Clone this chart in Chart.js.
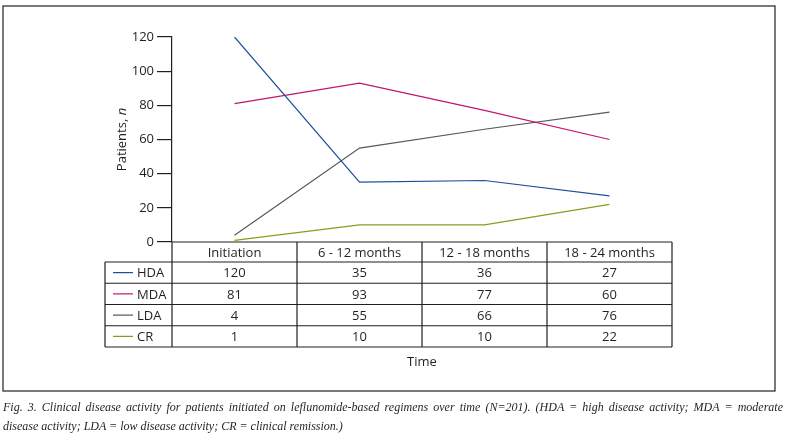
<!DOCTYPE html>
<html lang="en">
<head>
    <meta charset="UTF-8">
    <title>Clinical disease activity</title>
    <script src="https://cdn.jsdelivr.net/npm/chart.js"></script>
    <style>
        body { margin: 0; background: #fff; }
        .wrap { position: relative; width: 789px; height: 437px; }
        #grafico { position: absolute; left: 0; top: 0; }
        .legenda {
            position: absolute; left: 3px; top: 398px; width: 780px;
            font-family: "Liberation Serif", serif; font-style: italic;
            font-size: 12px; line-height: 19px; color: #231f20; margin: 0;
        }
        .legenda .l1 { display: block; text-align: justify; text-align-last: justify; white-space: nowrap; }
    </style>
</head>
<body>
<div class="wrap">
    <canvas id="grafico" width="789" height="437"></canvas>
    <p class="legenda"><span class="l1">Fig. 3. Clinical disease activity for patients initiated on leflunomide-based regimens over time (N=201). (HDA = high disease activity; MDA = moderate</span>disease activity; LDA = low disease activity; CR = clinical remission.)</p>
</div>
<script>
    // dados
    const periodos = ['Initiation', '6 - 12 months', '12 - 18 months', '18 - 24 months'];
    const nomesSeries = ['HDA', 'MDA', 'LDA', 'CR'];
    const hda = [120, 35, 36, 27];
    const mda = [81, 93, 77, 60];
    const lda = [4, 55, 66, 76];
    const cr = [1, 10, 10, 22];
    const ticksY = [0, 20, 40, 60, 80, 100, 120];

    const cores = ['#1f4f9c', '#c0166e', '#58585a', '#8a9c1b'];
    const tinta = '#231f20';
    const fonte = '"Open Sans", sans-serif';

    // tabela abaixo do grafico + moldura
    const tabela = {
        id: 'tabela',
        afterDraw(chart) {
            const ctx = chart.ctx;
            const area = chart.chartArea;
            const x = chart.scales.x;
            const meia = (x.getPixelForValue(1) - x.getPixelForValue(0)) / 2;
            const topo = area.bottom;
            const alturaCab = 20;
            const alturaLinha = 21.25;
            const esq = 105;
            const fundo = topo + alturaCab + alturaLinha * nomesSeries.length;
            const valores = [hda, mda, lda, cr];

            ctx.save();
            ctx.strokeStyle = tinta;
            ctx.fillStyle = tinta;
            ctx.lineWidth = 1.2;

            // moldura
            ctx.strokeRect(3, 6, 772, 385);

            ctx.beginPath();
            ctx.moveTo(area.left, topo);
            ctx.lineTo(area.right, topo);
            for (let r = 0; r <= nomesSeries.length; r++) {
                const yy = topo + alturaCab + r * alturaLinha;
                ctx.moveTo(esq, yy);
                ctx.lineTo(area.right, yy);
            }
            for (let i = 0; i <= periodos.length; i++) {
                const xx = i < periodos.length ? x.getPixelForValue(i) - meia : x.getPixelForValue(i - 1) + meia;
                ctx.moveTo(xx, topo);
                ctx.lineTo(xx, fundo);
            }
            ctx.moveTo(esq, topo + alturaCab);
            ctx.lineTo(esq, fundo);
            ctx.stroke();

            ctx.font = '13px ' + fonte;
            ctx.textAlign = 'center';
            ctx.textBaseline = 'middle';
            for (let i = 0; i < periodos.length; i++) {
                ctx.fillText(periodos[i], x.getPixelForValue(i), topo + alturaCab / 2 + 1);
            }
            for (let r = 0; r < nomesSeries.length; r++) {
                const yc = topo + alturaCab + r * alturaLinha + alturaLinha / 2 + 1;
                for (let i = 0; i < periodos.length; i++) {
                    ctx.fillText(valores[r][i], x.getPixelForValue(i), yc);
                }
                ctx.textAlign = 'left';
                ctx.fillText(nomesSeries[r], 137, yc);
                ctx.textAlign = 'center';
                ctx.save();
                ctx.strokeStyle = cores[r];
                ctx.beginPath();
                ctx.moveTo(113, yc - 1);
                ctx.lineTo(133, yc - 1);
                ctx.stroke();
                ctx.restore();
            }

            ctx.fillText('Time', (area.left + area.right) / 2, fundo + 15);

            // titulo do eixo y
            ctx.translate(122, (area.top + area.bottom) / 2);
            ctx.rotate(-Math.PI / 2);
            ctx.font = '13px ' + fonte;
            const p1 = 'Patients, ';
            const w1 = ctx.measureText(p1).width;
            ctx.font = 'italic 13px ' + fonte;
            const w2 = ctx.measureText('n').width;
            ctx.textAlign = 'left';
            ctx.font = '13px ' + fonte;
            ctx.fillText(p1, -(w1 + w2) / 2, 0);
            ctx.font = 'italic 13px ' + fonte;
            ctx.fillText('n', -(w1 + w2) / 2 + w1, 0);
            ctx.restore();
        }
    };

    const seriesDados = [hda, mda, lda, cr];
    new Chart(document.getElementById('grafico'), {
        type: 'line',
        data: {
            labels: periodos,
            datasets: nomesSeries.map((nome, i) => ({
                label: nome,
                data: seriesDados[i],
                borderColor: cores[i],
                borderWidth: 1.2,
                pointRadius: 0,
                tension: 0,
                fill: false
            }))
        },
        options: {
            responsive: false,
            animation: false,
            layout: { padding: { left: 0, right: 117, top: 37, bottom: 195 } },
            plugins: {
                legend: { display: false },
                tooltip: { enabled: false }
            },
            scales: {
                x: {
                    display: false,
                    offset: true
                },
                y: {
                    min: 0,
                    max: 120,
                    afterFit(scale) { scale.width = 172; },
                    afterBuildTicks(scale) { scale.ticks = ticksY.map(v => ({ value: v })); },
                    border: { display: true, color: tinta, width: 1.2 },
                    grid: {
                        drawOnChartArea: false,
                        drawTicks: true,
                        tickLength: 15,
                        color: tinta,
                        lineWidth: 1.2
                    },
                    ticks: {
                        color: tinta,
                        padding: 3,
                        font: { family: '"Open Sans", sans-serif', size: 13 }
                    }
                }
            }
        },
        plugins: [tabela]
    });
</script>
</body>
</html>
